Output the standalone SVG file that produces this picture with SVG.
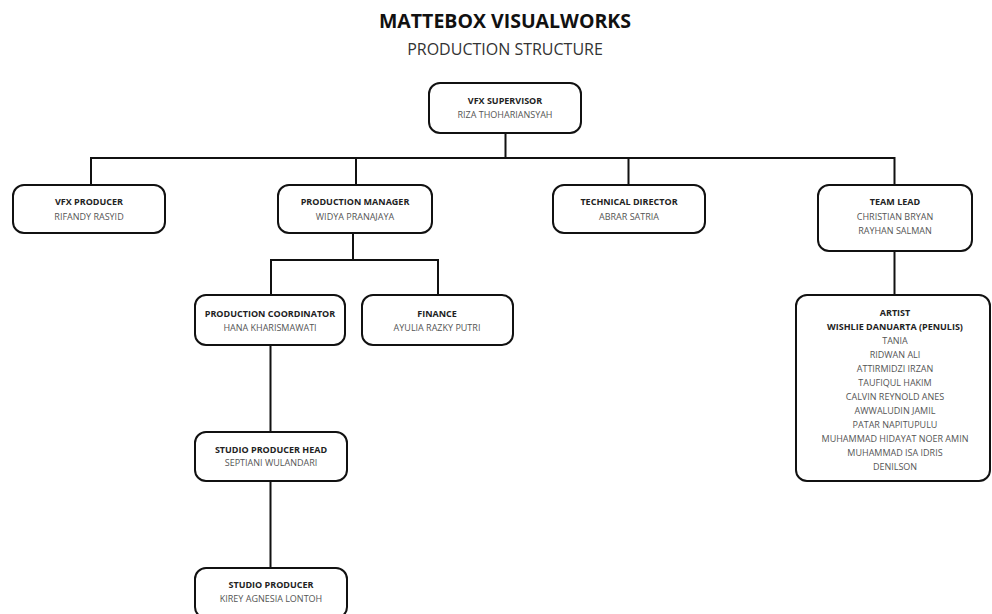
<svg xmlns="http://www.w3.org/2000/svg" width="992" height="614" viewBox="0 0 992 614">
<style>
.box{fill:#fff;stroke:#111;stroke-width:2}
.ln{fill:none;stroke:#111;stroke-width:2}
text{font-family:"Open Sans","Noto Sans","Liberation Sans",sans-serif;text-anchor:middle}
.h{font-weight:700;font-size:9px;fill:#222}
.n{font-size:9px;fill:#555}
</style>
<rect width="992" height="614" fill="#fff"/>
<text x="505" y="27.5" style="font-weight:700;font-size:19.5px;fill:#111">MATTEBOX VISUALWORKS</text>
<text x="505" y="55" style="font-size:16px;fill:#333">PRODUCTION STRUCTURE</text>
<g id="connectors">
<path class="ln" d="M505.5 133V158M91 185V158H894.5V185M356 158V185M628.5 158V185"/>
<path class="ln" d="M894.5 251V295"/>
<path class="ln" d="M353 233V260M271 295V260H438V295"/>
<path class="ln" d="M270.5 345V432M270.5 481V568"/>
</g>
<g id="vfx-supervisor"><rect class="box" x="429" y="83" width="152" height="50" rx="11"/><text class="h" x="505" y="104">VFX SUPERVISOR</text><text class="n" x="505" y="117.5">RIZA THOHARIANSYAH</text></g>
<g id="vfx-producer"><rect class="box" x="13" y="185" width="152" height="48" rx="11"/><text class="h" x="89" y="205">VFX PRODUCER</text><text class="n" x="89" y="219.5">RIFANDY RASYID</text></g>
<g id="production-manager"><rect class="box" x="278" y="185" width="154" height="48" rx="11"/><text class="h" x="355" y="205">PRODUCTION MANAGER</text><text class="n" x="355" y="219.5">WIDYA PRANAJAYA</text></g>
<g id="technical-director"><rect class="box" x="553" y="185" width="152" height="48" rx="11"/><text class="h" x="629" y="205">TECHNICAL DIRECTOR</text><text class="n" x="629" y="219.5">ABRAR SATRIA</text></g>
<g id="team-lead"><rect class="box" x="818" y="185" width="154" height="66" rx="11"/><text class="h" x="895" y="205">TEAM LEAD</text><text class="n" x="895" y="219.5">CHRISTIAN BRYAN</text><text class="n" x="895" y="233.5">RAYHAN SALMAN</text></g>
<g id="production-coordinator"><rect class="box" x="195" y="295" width="150" height="50" rx="11"/><text class="h" x="270" y="316.5">PRODUCTION COORDINATOR</text><text class="n" x="270" y="330.5">HANA KHARISMAWATI</text></g>
<g id="finance"><rect class="box" x="362" y="295" width="151" height="50" rx="11"/><text class="h" x="437" y="316.5">FINANCE</text><text class="n" x="437" y="330.5">AYULIA RAZKY PUTRI</text></g>
<g id="studio-producer-head"><rect class="box" x="195" y="432" width="152" height="49" rx="11"/><text class="h" x="271" y="452.5">STUDIO PRODUCER HEAD</text><text class="n" x="271" y="466">SEPTIANI WULANDARI</text></g>
<g id="studio-producer"><rect class="box" x="195" y="568" width="152" height="50" rx="11"/><text class="h" x="271" y="588">STUDIO PRODUCER</text><text class="n" x="271" y="601.5">KIREY AGNESIA LONTOH</text></g>
<g id="artist"><rect class="box" x="796" y="295" width="194" height="186" rx="11"/>
<text class="h" x="895" y="316">ARTIST</text>
<text class="h" x="895" y="330">WISHLIE DANUARTA (PENULIS)</text>
<text class="n" x="895" y="344">TANIA</text>
<text class="n" x="895" y="358">RIDWAN ALI</text>
<text class="n" x="895" y="372">ATTIRMIDZI IRZAN</text>
<text class="n" x="895" y="386">TAUFIQUL HAKIM</text>
<text class="n" x="895" y="400">CALVIN REYNOLD ANES</text>
<text class="n" x="895" y="414">AWWALUDIN JAMIL</text>
<text class="n" x="895" y="428">PATAR NAPITUPULU</text>
<text class="n" x="895" y="442">MUHAMMAD HIDAYAT NOER AMIN</text>
<text class="n" x="895" y="456">MUHAMMAD ISA IDRIS</text>
<text class="n" x="895" y="470">DENILSON</text>
</g>
</svg>
